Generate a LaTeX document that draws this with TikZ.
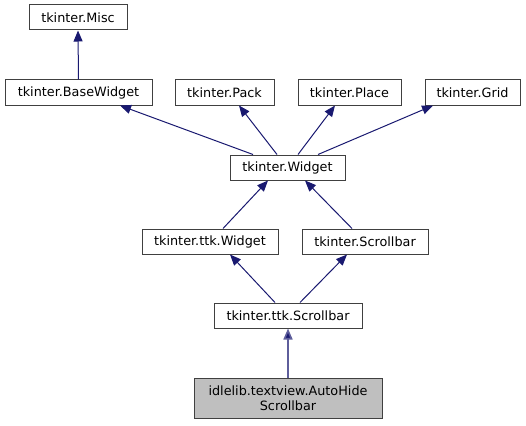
\documentclass[tikz,border=0pt]{standalone}
\usepackage{fontspec}
\setmainfont{DejaVu Sans}
\usetikzlibrary{arrows.meta}

\definecolor{edgeblue}{HTML}{191970}
\definecolor{boxline}{HTML}{404040}
\definecolor{boxgray}{HTML}{BFBFBF}

\tikzset{
  cls/.style={draw=boxline,line width=1pt,fill=white,inner sep=0pt,
    minimum height=25pt,font=\fontsize{12.8}{15.5}\selectfont},
  inh/.style={draw=edgeblue,line width=1pt,
    -{Triangle[length=11pt,width=9pt,fill=edgeblue]}}
}

\begin{document}
\begin{tikzpicture}[x=1pt,y=-1pt]
\useasboundingbox (0,0) rectangle (526,425);

% classes, one row at a time
\node[cls,minimum width=98pt]  (misc)       at (78,17.5)   {tkinter.Misc};

\node[cls,minimum width=147pt] (basewidget) at (78.5,92.5) {tkinter.BaseWidget};
\node[cls,minimum width=99pt]  (pack)       at (224.5,92.5) {tkinter.Pack};
\node[cls,minimum width=103pt] (place)      at (349.5,92.5) {tkinter.Place};
\node[cls,minimum width=95pt]  (grid)       at (472.5,92.5) {tkinter.Grid};

\node[cls,minimum width=115pt] (widget)     at (287.5,167.5) {tkinter.Widget};

\node[cls,minimum width=136pt] (ttkwidget)  at (210,241.5) {tkinter.ttk.Widget};
\node[cls,minimum width=126pt] (scrollbar)  at (365,241.5) {tkinter.Scrollbar};

\node[cls,minimum width=148pt] (ttkscroll)  at (288,315.5) {tkinter.ttk.Scrollbar};

\node[cls,fill=boxgray,minimum width=188pt,minimum height=40pt,align=center]
  (autohide) at (288,398) {idlelib.textview.AutoHide\\Scrollbar};

% inheritance edges (child -> parent)
\draw[inh] (basewidget.north) -- (misc.south);

\draw[inh] ([xshift=-34.5pt]widget.north) -- ([xshift=41.5pt]basewidget.south);
\draw[inh] ([xshift=-10.5pt]widget.north) -- ([xshift=14.5pt]pack.south);
\draw[inh] ([xshift=10.5pt]widget.north)  -- ([xshift=-14.5pt]place.south);
\draw[inh] ([xshift=30.5pt]widget.north)  -- ([xshift=-39.5pt]grid.south);

\draw[inh] ([xshift=13pt]ttkwidget.north)  -- ([xshift=-19.5pt]widget.south);
\draw[inh] ([xshift=-13pt]scrollbar.north) -- ([xshift=17.5pt]widget.south);

\draw[inh] ([xshift=-13pt]ttkscroll.north) -- ([xshift=20pt]ttkwidget.south);
\draw[inh] ([xshift=12pt]ttkscroll.north)  -- ([xshift=-18pt]scrollbar.south);

%\draw[inh] (autohide) -- (ttkscroll);
\draw[inh,draw=edgeblue!70,line width=1.6pt] (autohide.north) -- (ttkscroll.south);

\end{tikzpicture}
\end{document}
